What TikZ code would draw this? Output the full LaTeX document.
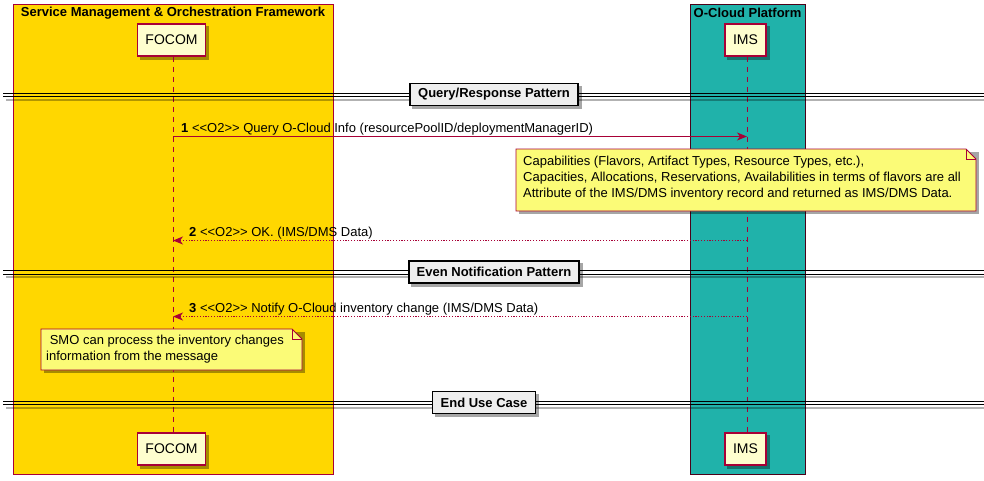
\documentclass[tikz,border=0pt]{standalone}
\usepackage{fontspec}
\setmainfont{Liberation Sans}
\usetikzlibrary{arrows.meta}
\definecolor{umlred}{HTML}{A80036}
\definecolor{partfill}{HTML}{FEFECE}
\definecolor{notefill}{HTML}{FBFB77}
\definecolor{smogold}{HTML}{FFD700}
\definecolor{cloudteal}{HTML}{20B2AA}
\definecolor{sepfill}{HTML}{EEEEEE}
\pgfdeclarelayer{back}
\pgfdeclarelayer{shade}
\pgfsetlayers{back,shade,main}
\tikzset{
  x=1pt,y=-1pt,
  shade fill/.style={fill=black,fill opacity=0.35,draw=none},
  part/.style={draw=umlred,line width=1.2pt,fill=partfill,minimum height=32pt,inner xsep=8pt,font=\fontsize{14}{16}\selectfont},
  grouphead/.style={font=\bfseries\fontsize{13}{15}\selectfont,inner sep=0pt},
  lifeline/.style={umlred,dashed,dash pattern=on 5pt off 5pt,line width=0.7pt},
  msg/.style={umlred,line width=1.1pt,-{Stealth[length=10pt,width=8pt,inset=3pt]}},
  reply/.style={umlred,line width=1.1pt,dash pattern=on 1.2pt off 1.6pt,-{Stealth[length=10pt,width=8pt,inset=3pt]}},
  msglabel/.style={font=\fontsize{13}{15}\selectfont,inner sep=0pt,anchor=base west},
  notetext/.style={font=\fontsize{13}{16}\selectfont,align=left,inner sep=0pt,anchor=north west},
  noteshape/.style={draw=umlred,fill=notefill,line width=0.8pt},
  sepline/.style={black,line width=1pt},
  sepshade/.style={black,opacity=0.3,line width=2pt},
  seplabel/.style={draw=black,line width=1.6pt,fill=sepfill,font=\bfseries\fontsize{13}{15}\selectfont,minimum height=22pt,inner xsep=8pt}
}
\newcommand{\boxshade}[1]{\begin{pgfonlayer}{shade}\path[shade fill] ([shift={(3,3)}]#1.north west) rectangle ([shift={(3,3)}]#1.south east);\end{pgfonlayer}}
\begin{document}
\begin{tikzpicture}
\useasboundingbox (0,0) rectangle (984,480);
% group boxes
\begin{pgfonlayer}{back}
\path[fill=smogold,draw=umlred,line width=0.8pt] (13,4) rectangle (333,474);
\path[fill=cloudteal,draw=black!60!purple,line width=0.8pt] (690,4) rectangle (805,474);
\end{pgfonlayer}
\node[grouphead] (smohead) at (173,13) {Service Management \& Orchestration Framework};
\node[grouphead] (cloudhead) at (747.5,13) {O-Cloud Platform};
% participants
\node[part] (focomT) at (171.5,40) {FOCOM};
\node[part] (imsT) at (745.5,40) {IMS};
\node[part] (focomB) at (171.5,449) {FOCOM};
\node[part] (imsB) at (745.5,449) {IMS};
\boxshade{focomT}\boxshade{imsT}\boxshade{focomB}\boxshade{imsB}
\coordinate (fl) at (173,0);
\coordinate (il) at (747,0);
\draw[lifeline] (focomT.south -| fl) -- (focomB.north -| fl);
\draw[lifeline] (imsT.south -| il) -- (imsB.north -| il);
% separator 1
\draw[sepshade] (6,99.5) -- (984,99.5);
\draw[sepline] (3,93) -- (984,93);
\draw[sepline] (3,96.5) -- (984,96.5);
\node[seplabel] (sep1) at (494,94.5) {Query/Response Pattern};
\boxshade{sep1}
% message 1
\coordinate (m1f) at (173,136.5);
\coordinate (m1i) at (747,136.5);
\draw[msg] (m1f) -- (m1i);
\node[msglabel] (l1) at (181,132) {\textbf{1} <{}<O2>{}> Query O-Cloud Info (resourcePoolID/deploymentManagerID)};
% note 1
\begin{pgfonlayer}{shade}
\path[shade fill] (519,152) rectangle (979,214);
\end{pgfonlayer}
\path[noteshape] (516,149) -- (966,149) -- (976,159) -- (976,211) -- (516,211) -- cycle;
\draw[umlred,line width=0.8pt] (966,149) -- (966,159) -- (976,159);
\node[notetext] (n1) at (523,155.5) {Capabilities (Flavors, Artifact Types, Resource Types, etc.),\\Capacities, Allocations, Reservations, Availabilities in terms of flavors are all\\Attribute of the IMS/DMS inventory record and returned as IMS/DMS Data.};
% message 2
\coordinate (m2f) at (173,240.5);
\coordinate (m2i) at (747,240.5);
\draw[reply] (m2i) -- (m2f);
\node[msglabel] (l2) at (189,236) {\textbf{2} <{}<O2>{}> OK. (IMS/DMS Data)};
% separator 2
\draw[sepshade] (6,277) -- (984,277);
\draw[sepline] (3,270.5) -- (984,270.5);
\draw[sepline] (3,274) -- (984,274);
\node[seplabel] (sep2) at (494,272) {Even Notification Pattern};
\boxshade{sep2}
% message 3
\coordinate (m3f) at (173,316.5);
\coordinate (m3i) at (747,316.5);
\draw[reply] (m3i) -- (m3f);
\node[msglabel] (l3) at (189,312) {\textbf{3} <{}<O2>{}> Notify O-Cloud inventory change (IMS/DMS Data)};
% note 2
\begin{pgfonlayer}{shade}
\path[shade fill] (44,332) rectangle (305,373);
\end{pgfonlayer}
\path[noteshape] (41,329) -- (292,329) -- (302,339) -- (302,370) -- (41,370) -- cycle;
\draw[umlred,line width=0.8pt] (292,329) -- (292,339) -- (302,339);
\node[notetext] (n2) at (46,335) {\ SMO can process the inventory changes\\information from the message};
% separator 3
\draw[sepshade] (6,407.5) -- (984,407.5);
\draw[sepline] (3,401) -- (984,401);
\draw[sepline] (3,404.5) -- (984,404.5);
\node[seplabel] (sep3) at (484,402.5) {End Use Case};
\boxshade{sep3}
\end{tikzpicture}
\end{document}
